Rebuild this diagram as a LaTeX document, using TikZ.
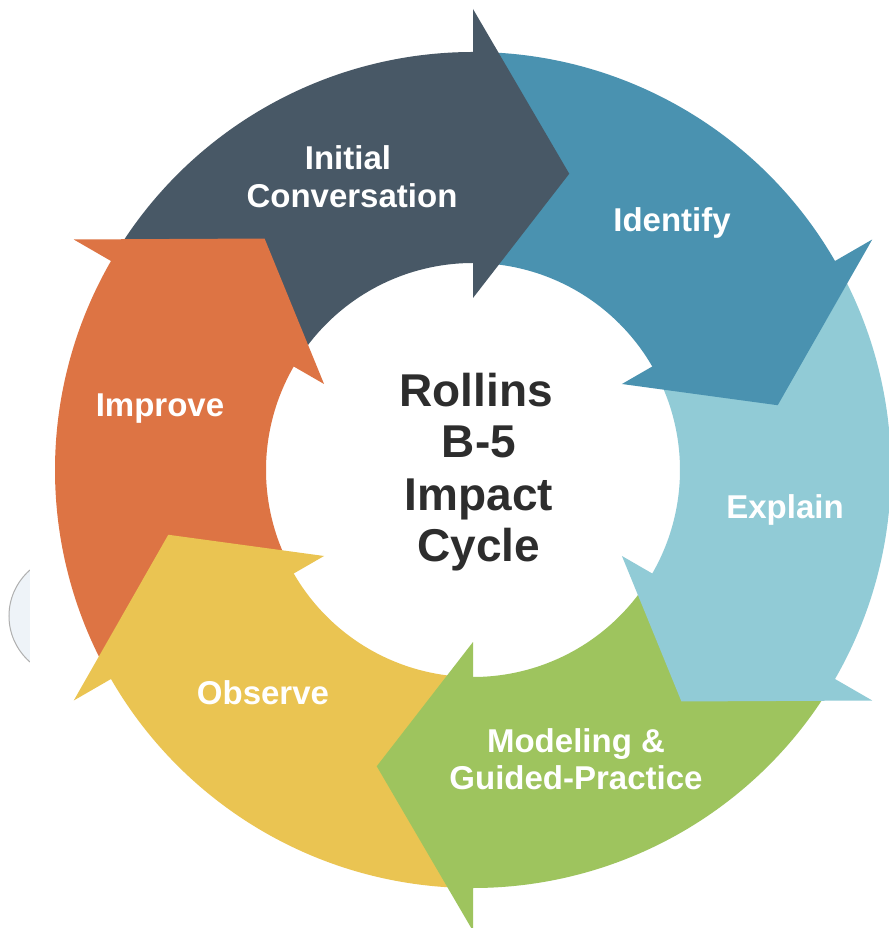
\documentclass[tikz,border=0pt]{standalone}
\usepackage{fontspec}
\setmainfont{Liberation Sans}
\usepackage{xcolor}
\usepackage{tikz}

\begin{document}
\begin{tikzpicture}[x=1pt,y=1pt]
\definecolor{fillColor}{RGB}{255,255,255}
\definecolor{slateColor}{RGB}{72,88,102}
\definecolor{blueColor}{RGB}{74,146,176}
\definecolor{skyColor}{RGB}{145,203,214}
\definecolor{greenColor}{RGB}{158,196,94}
\definecolor{yellowColor}{RGB}{234,196,82}
\definecolor{orangeColor}{RGB}{221,116,68}
\definecolor{textColor}{RGB}{45,45,45}
\path[use as bounding box,fill=fillColor] (-473,-458) rectangle (415,470);

% faint round patch at the left border
\begin{scope}
\path[clip] (-473,-458) rectangle (-443,470);
\definecolor{patchFill}{RGB}{238,243,248}
\definecolor{patchDraw}{RGB}{175,175,175}
\path[draw=patchDraw,fill=patchFill,line width= 1.0pt] (-403,-146) circle ( 61.00);
\end{scope}

% ring bodies, each one tucked under the previous head and running into its own head
\foreach \b/\c in {90/slateColor,30/blueColor,-30/skyColor,-90/greenColor,-150/yellowColor,-210/orangeColor}{
  \path[fill=\c] ({\b+58}:418) arc[start angle={\b+58}, end angle={\b-2}, radius=418] --
	({\b-2}:207) arc[start angle={\b-2}, end angle={\b+58}, radius=207] -- cycle;
}

% arrow heads on top
\foreach \b/\c in {90/slateColor,30/blueColor,-30/skyColor,-90/greenColor,-150/yellowColor,-210/orangeColor}{
  \path[fill=\c] (\b:461) -- ({\b-18}:311.5) -- (\b:172) -- cycle;
}

\begin{scope}
\fontsize{33}{38}\selectfont\bfseries
\node[text=white,anchor=base,inner sep=0pt, outer sep=0pt] (initial) at (-125, 300) {Initial};
\node[text=white,anchor=base,inner sep=0pt, outer sep=0pt] (conversation) at (-121, 262) {Conversation};
\node[text=white,anchor=base,inner sep=0pt, outer sep=0pt] (identify) at ( 199, 238) {Identify};
\node[text=white,anchor=base,inner sep=0pt, outer sep=0pt] (explain) at ( 312, -49) {Explain};
\node[text=white,anchor=base,inner sep=0pt, outer sep=0pt] (modeling) at ( 103,-282) {Modeling \&};
\node[text=white,anchor=base,inner sep=0pt, outer sep=0pt] (guided) at ( 103,-319) {Guided-Practice};
\node[text=white,anchor=base,inner sep=0pt, outer sep=0pt] (observe) at (-210,-234) {Observe};
\node[text=white,anchor=base,inner sep=0pt, outer sep=0pt] (improve) at (-313,  53) {Improve};
\end{scope}

\begin{scope}
\fontsize{46}{51}\selectfont\bfseries
\node[text=textColor,anchor=base,inner sep=0pt, outer sep=0pt] (rollins) at (  3,  63) {Rollins};
\node[text=textColor,anchor=base,inner sep=0pt, outer sep=0pt] (bfive) at (  6,  12) {B-5};
\node[text=textColor,anchor=base,inner sep=0pt, outer sep=0pt] (impact) at (  6, -41) {Impact};
\node[text=textColor,anchor=base,inner sep=0pt, outer sep=0pt] (cycle) at (  6, -92) {Cycle};
\end{scope}
\end{tikzpicture}
\end{document}
